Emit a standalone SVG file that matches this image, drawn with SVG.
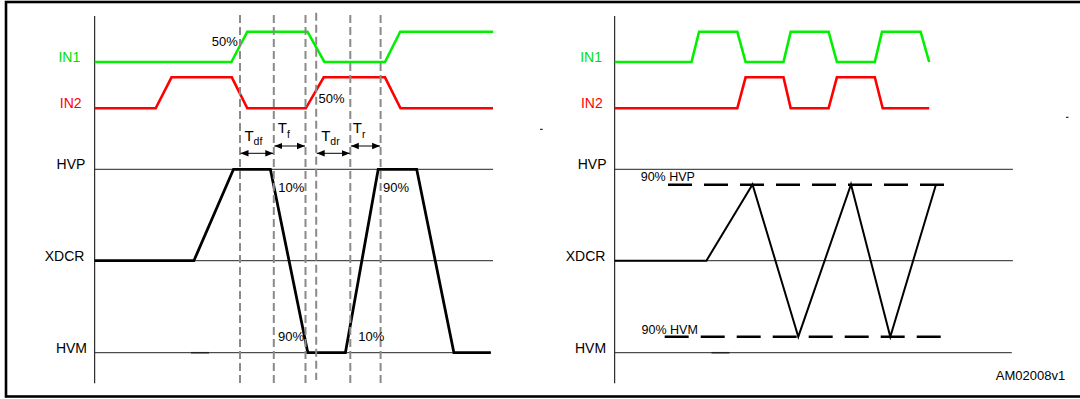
<svg xmlns="http://www.w3.org/2000/svg" width="1080" height="399" viewBox="0 0 1080 399">
<defs>
<marker id="ah" viewBox="0 0 8 8" refX="8" refY="4" markerWidth="8" markerHeight="8" markerUnits="userSpaceOnUse" orient="auto-start-reverse">
<path d="M0,0.8 L8,4 L0,7.2 Z" fill="#000"/>
</marker>
</defs>
<style>
.lbl{font-family:"Liberation Sans",Arial,sans-serif;font-size:14px;fill:#000}
.tl{font-family:"Liberation Sans",Arial,sans-serif;font-size:15px;fill:#000}
.pct{font-family:"Liberation Sans",Arial,sans-serif;font-size:13px;fill:#000}
.small{font-family:"Liberation Sans",Arial,sans-serif;font-size:12.5px;fill:#000}
.sub{font-family:"Liberation Sans",Arial,sans-serif;font-size:10.5px;fill:#000}
.axis{stroke:#000;stroke-width:1;fill:none}
.ref{stroke:#222;stroke-width:1;fill:none}
.g{stroke:#00f000;stroke-width:2.6;fill:none;stroke-linejoin:miter}
.r{stroke:#ff0000;stroke-width:2.6;fill:none}
.k{stroke:#000;stroke-width:2.8;fill:none}
.k2{stroke:#000;stroke-width:2;fill:none}
.gd{stroke:#8a8a8a;stroke-width:2;stroke-dasharray:8 4;fill:none}
.bd{stroke:#000;stroke-width:2.6;stroke-dasharray:24 12;fill:none}
.arr{stroke:#000;stroke-width:1;fill:none;marker-start:url(#ah);marker-end:url(#ah)}
</style>
<rect width="1080" height="399" fill="#fff"/>
<rect x="6" y="2" width="1080" height="394.5" fill="none" stroke="#000" stroke-width="2.6"/>
<line x1="540" y1="129.3" x2="542.7" y2="129.3" stroke="#000" stroke-width="1"/>
<line x1="1066" y1="117.3" x2="1068.5" y2="117.3" stroke="#000" stroke-width="1"/>

<g id="left-panel">
<g id="left-axes">
<line class="axis" x1="94.7" y1="16" x2="94.7" y2="383.3"/>
<line class="ref" x1="94.7" y1="169.3" x2="493" y2="169.3"/>
<line class="ref" x1="94.7" y1="260.7" x2="493" y2="260.7"/>
<line class="ref" x1="94.7" y1="352.7" x2="491" y2="352.7"/>
<line x1="191" y1="352.7" x2="209" y2="352.7" stroke="#222" stroke-width="1.5"/>
</g>
<g id="left-labels">
<text class="lbl" x="80.2" y="62.3" text-anchor="end" style="fill:#00e000">IN1</text>
<text class="lbl" x="81.6" y="108.3" text-anchor="end" style="fill:#ff0000">IN2</text>
<text class="lbl" x="85.4" y="169.3" text-anchor="end">HVP</text>
<text class="lbl" x="84.4" y="260.7" text-anchor="end">XDCR</text>
<text class="lbl" x="87" y="352.7" text-anchor="end">HVM</text>
</g>
<g id="left-in1"><polyline class="g" points="94.7,62 231.4,62 247.3,31.7 307.5,31.7 324.4,62 385,62 400.2,31.7 493.2,31.7"/></g>
<g id="left-in2"><polyline class="r" points="94.7,108.3 155.7,108.3 171.5,77.3 231.8,77.3 247.3,108.3 305.8,108.3 323.7,77.3 385,77.3 400.5,108.3 493,108.3"/></g>
<g id="left-xdcr"><polyline class="k" points="94.7,260.7 193.9,260.7 233.5,169.3 270.4,169.3 307.8,352.7 345.4,352.7 378.2,169.3 416.7,169.3 453.9,352.7 490.8,352.7"/></g>
<g id="left-markers">
<line class="gd" x1="240" y1="15" x2="240" y2="383.3"/>
<line class="gd" x1="273.8" y1="15" x2="273.8" y2="383.3"/>
<line class="gd" x1="305.5" y1="15" x2="305.5" y2="383.3"/>
<line class="gd" x1="316.2" y1="12.7" x2="316.2" y2="380"/>
<line class="gd" x1="350.3" y1="15" x2="350.3" y2="383.3"/>
<line class="gd" x1="380.6" y1="15" x2="380.6" y2="383.3"/>
</g>
<g id="timing-arrows">
<line class="arr" x1="240.5" y1="153.3" x2="273.3" y2="153.3"/>
<line class="arr" x1="274.3" y1="146" x2="305" y2="146"/>
<line class="arr" x1="316.7" y1="153.3" x2="349.8" y2="153.3"/>
<line class="arr" x1="350.8" y1="146" x2="380.1" y2="146"/>
</g>
<g id="timing-labels">
<text class="tl" x="244.4" y="140.5">T<tspan class="sub" dy="4.3">df</tspan></text>
<text class="tl" x="277.8" y="132.9">T<tspan class="sub" dy="5.5">f</tspan></text>
<text class="tl" x="321.2" y="140.5">T<tspan class="sub" dy="4.3">dr</tspan></text>
<text class="tl" x="352.8" y="132.9">T<tspan class="sub" dy="5.5">r</tspan></text>
</g>
<g id="pct-labels">
<text class="pct" x="211.8" y="45.6">50%</text>
<text class="pct" x="318.6" y="102.6">50%</text>
<text class="pct" x="278.3" y="191.6">10%</text>
<text class="pct" x="383" y="191.6">90%</text>
<text class="pct" x="278" y="341">90%</text>
<text class="pct" x="358.2" y="341">10%</text>
</g>
</g>

<g id="right-panel">
<g id="right-axes">
<line class="axis" x1="614.7" y1="16" x2="614.7" y2="383.3"/>
<line class="ref" x1="614.7" y1="169.3" x2="1012.9" y2="169.3"/>
<line class="ref" x1="614.7" y1="260.7" x2="1012.9" y2="260.7"/>
<line class="ref" x1="614.7" y1="352.7" x2="1011.8" y2="352.7"/>
<line x1="711.5" y1="352.7" x2="729.4" y2="352.7" stroke="#222" stroke-width="1.5"/>
</g>
<g id="right-labels">
<text class="lbl" x="602" y="62.3" text-anchor="end" style="fill:#00e000">IN1</text>
<text class="lbl" x="602.7" y="108.3" text-anchor="end" style="fill:#ff0000">IN2</text>
<text class="lbl" x="606.5" y="169.3" text-anchor="end">HVP</text>
<text class="lbl" x="605.4" y="260.7" text-anchor="end">XDCR</text>
<text class="lbl" x="606.1" y="352.7" text-anchor="end">HVM</text>
<text class="small" x="640.7" y="180.8">90% HVP</text>
<text class="small" x="641.6" y="334.3">90% HVM</text>
</g>
<g id="right-in1"><polyline class="g" points="614.7,62 691.5,62 699.1,31.7 737.3,31.7 745.6,62 783.5,62 790.7,31.7 828.6,31.7 836.9,62 874.8,62 882,31.7 920.6,31.7 929.2,62"/></g>
<g id="right-in2"><polyline class="r" points="614.7,108.3 737.3,108.3 745.6,77.3 783.5,77.3 790.7,108.3 828.6,108.3 836.9,77.3 874.8,77.3 882.7,108.3 929.2,108.3"/></g>
<g id="right-thresholds">
<line class="bd" x1="668" y1="184.8" x2="944.7" y2="184.8"/>
<line class="bd" x1="664.7" y1="336.7" x2="941.9" y2="336.7"/>
</g>
<g id="right-xdcr"><polyline class="k2" points="614.7,260.7 706.4,260.7 752.5,184.5 798.3,336.7 851,184.5 890.3,336.7 936,184.5"/></g>
<text class="pct" x="1065.2" y="380" text-anchor="end">AM02008v1</text>
</g>
</svg>
